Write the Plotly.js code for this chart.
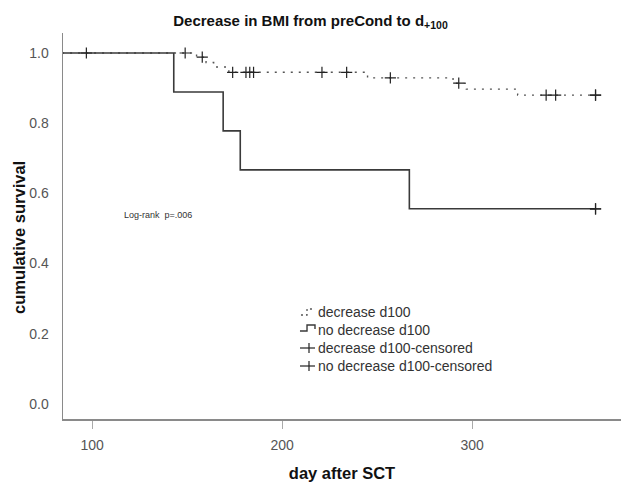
<!DOCTYPE html>
<html>
<head>
<meta charset="utf-8">
<script src="https://cdn.plot.ly/plotly-3.0.1.min.js"></script>
<style>html,body{margin:0;padding:0;background:#fff}#chart{width:621px;height:482px}</style>
</head>
<body>
<div id="chart"></div>
<script>
// Kaplan-Meier step data (day after SCT, cumulative survival)
const decreaseDays = [80, 155, 160, 164, 172, 245, 290, 297, 324, 365];
const decreaseSurv = [1.0, 0.988, 0.973, 0.960, 0.945, 0.929, 0.914, 0.897, 0.880, 0.880];
const noDecreaseDays = [80, 143, 169, 178, 267, 365];
const noDecreaseSurv = [1.0, 0.889, 0.778, 0.667, 0.556, 0.556];
// censored observations
const decreaseCensDays = [149, 158, 174, 181, 183, 185, 221, 234, 257, 293, 339, 344, 365, 365];
const decreaseCensSurv = [1.0, 0.988, 0.945, 0.945, 0.945, 0.945, 0.945, 0.945, 0.929, 0.914, 0.880, 0.880, 0.880, 0.880];
const noDecreaseCensDays = [97, 365, 365];
const noDecreaseCensSurv = [1.0, 0.556, 0.556];
const xTicks = [100, 200, 300];
const yTicks = [0.0, 0.2, 0.4, 0.6, 0.8, 1.0];
const seriesNames = ['decrease d100', 'no decrease d100', 'decrease d100-censored', 'no decrease d100-censored'];

const traces = [
  {x: decreaseDays, y: decreaseSurv, name: seriesNames[0], mode: 'lines',
   line: {shape: 'hv', color: '#555', width: 1.4, dash: '2px,6px'}},
  {x: noDecreaseDays, y: noDecreaseSurv, name: seriesNames[1], mode: 'lines',
   line: {shape: 'hv', color: '#3a3a3a', width: 1.6}},
  {x: decreaseCensDays, y: decreaseCensSurv, name: seriesNames[2], mode: 'markers',
   marker: {symbol: 'cross-thin', size: 8, line: {color: '#222', width: 1.2}}},
  {x: noDecreaseCensDays, y: noDecreaseCensSurv, name: seriesNames[3], mode: 'markers',
   marker: {symbol: 'cross-thin', size: 8, line: {color: '#222', width: 1.2}}}
];

// pixel -> paper helpers for the hand-drawn legend (plot area 63..621 x 33..419)
const PX = p => (p - 63) / 558;
const PY = p => (419 - p) / 386;
const legendRows = [312, 330, 348, 366];
const shapes = [];
const annotations = [];
function pathFrom(pts) {
  return pts.map((p, i) => (i ? 'L' : 'M') + PX(p[0]).toFixed(4) + ',' + PY(p[1]).toFixed(4)).join(' ');
}
// row 1: dotted step
shapes.push({type: 'path', xref: 'paper', yref: 'paper',
  path: pathFrom([[301, legendRows[0] + 3], [307, legendRows[0] + 3], [307, legendRows[0] - 3], [315, legendRows[0] - 3]]),
  line: {color: '#555', width: 1.3, dash: '2px,3px'}});
// row 2: solid step
shapes.push({type: 'path', xref: 'paper', yref: 'paper',
  path: pathFrom([[300, legendRows[1] + 1], [307, legendRows[1] + 1], [307, legendRows[1] - 5], [315, legendRows[1] - 5], [315, legendRows[1] - 1]]),
  line: {color: '#3a3a3a', width: 1.4}});
// rows 3-4: censor marks
[2, 3].forEach(i => {
  const r = legendRows[i];
  shapes.push({type: 'line', xref: 'paper', yref: 'paper', x0: PX(300), x1: PX(315), y0: PY(r), y1: PY(r), line: {color: '#222', width: 1.2}});
  shapes.push({type: 'line', xref: 'paper', yref: 'paper', x0: PX(309), x1: PX(309), y0: PY(r - 5), y1: PY(r + 5), line: {color: '#222', width: 1.2}});
});
seriesNames.forEach((n, i) => {
  annotations.push({text: n, xref: 'paper', yref: 'paper', x: PX(316), y: PY(legendRows[i]),
    xanchor: 'left', yanchor: 'middle', showarrow: false, font: {size: 14, color: '#333'}});
});
annotations.push({text: 'Log-rank  p=.006', xref: 'paper', yref: 'paper', x: PX(122), y: PY(215),
  xanchor: 'left', yanchor: 'middle', showarrow: false, font: {size: 9, color: '#333'}});
// y-axis title
annotations.push({text: '<b>cumulative survival</b>', xref: 'paper', yref: 'paper', x: PX(19), y: PY(238),
  xanchor: 'center', yanchor: 'middle', textangle: -90, showarrow: false, font: {size: 16.5, color: '#111'}});

const layout = {
  width: 621, height: 482,
  margin: {l: 63, r: 0, t: 33, b: 63},
  paper_bgcolor: '#fff', plot_bgcolor: '#fff',
  font: {family: 'Liberation Sans, Arial, sans-serif', color: '#444'},
  showlegend: false,
  title: {text: '<b>Decrease in BMI from preCond to d<sub>+100</sub></b>',
          font: {size: 15, color: '#111'}, x: 0.5, xanchor: 'center', y: 0.968, yanchor: 'top'},
  xaxis: {range: [84.7, 378.4], tickvals: xTicks, ticktext: xTicks.map(String),
          showgrid: false, zeroline: false, showline: true, linecolor: '#8a8a8a', linewidth: 1.5,
          ticks: 'outside', ticklen: 8, tickcolor: '#aaa', tickwidth: 1, ticklabelstandoff: 5,
          tickfont: {size: 14, color: '#555'},
          title: {text: '<b>day after SCT</b>', font: {size: 16.5, color: '#111'}, standoff: 18}},
  yaxis: {range: [-0.043, 1.057], tickvals: yTicks, ticktext: yTicks.map(v => v.toFixed(1)),
          showgrid: false, zeroline: false, showline: true, linecolor: '#8a8a8a', linewidth: 1.5,
          ticks: '', ticklabelstandoff: 10, tickfont: {size: 14, color: '#555'}},
  shapes: shapes,
  annotations: annotations
};

Plotly.newPlot('chart', traces, layout, {displayModeBar: false, staticPlot: true});
</script>
</body>
</html>
